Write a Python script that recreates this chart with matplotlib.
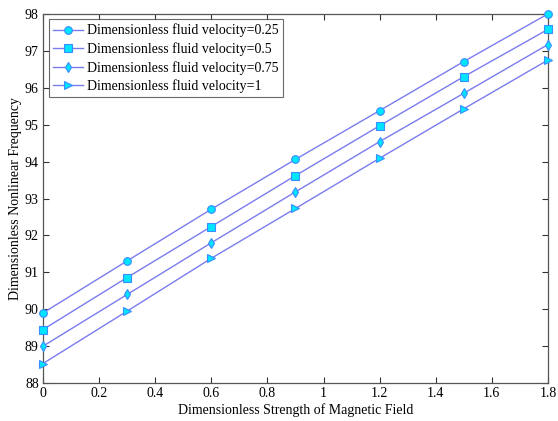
import matplotlib
matplotlib.use("Agg")
import matplotlib.pyplot as plt

x = [0, 0.3, 0.6, 0.9, 1.2, 1.5, 1.8]
v025 = [89.90, 91.31, 92.71, 94.06, 95.38, 96.71, 98.00]
v05 = [89.45, 90.86, 92.24, 93.62, 94.97, 96.30, 97.58]
v075 = [89.00, 90.40, 91.80, 93.18, 94.54, 95.85, 97.17]
v1 = [88.53, 89.95, 91.38, 92.73, 94.09, 95.43, 96.75]
labels = ["Dimensionless fluid velocity=0.25", "Dimensionless fluid velocity=0.5",
          "Dimensionless fluid velocity=0.75", "Dimensionless fluid velocity=1"]
markers = ["o", "s", "d", ">"]

plt.rcParams['font.family'] = ['Liberation Serif', 'DejaVu Serif']
fig = plt.figure(figsize=(5.58, 4.21), dpi=100)
ax = fig.add_axes([0.077, 0.090, 0.905, 0.877])

line_color = "#7b7bf0"
for ys, lab, m in zip([v025, v05, v075, v1], labels, markers):
    ax.plot(x, ys, color=line_color, lw=1.0, marker=m, markersize=5.5,
            markerfacecolor="#00e5ff", markeredgecolor="#3a8cff", markeredgewidth=0.8,
            label=lab, clip_on=False, zorder=3)

ax.set_xlim(0, 1.8)
ax.set_ylim(88, 98)
ax.set_xticks([0, 0.2, 0.4, 0.6, 0.8, 1, 1.2, 1.4, 1.6, 1.8])
ax.set_xticklabels(["0", "0.2", "0.4", "0.6", "0.8", "1", "1.2", "1.4", "1.6", "1.8"])
ax.set_yticks(range(88, 99))
ax.tick_params(direction="in", top=True, right=True, labelsize=10, length=4, width=0.8,
               colors="#333333", labelcolor="black", pad=3)
for s in ax.spines.values():
    s.set_color("#555555")
    s.set_linewidth(0.9)
ax.set_xlabel("Dimensionless Strength of Magnetic Field", fontsize=10, labelpad=2)
ax.set_ylabel("Dimensionless Nonlinear Frequency", fontsize=10, labelpad=2)
leg = ax.legend(loc="upper left", fontsize=10, frameon=True, fancybox=False,
                edgecolor="#444444", borderpad=0.3, labelspacing=0.35, handlelength=2.2,
                handletextpad=0.3, borderaxespad=0.4)
leg.get_frame().set_linewidth(0.8)
fig.savefig("out.png", dpi=100)
